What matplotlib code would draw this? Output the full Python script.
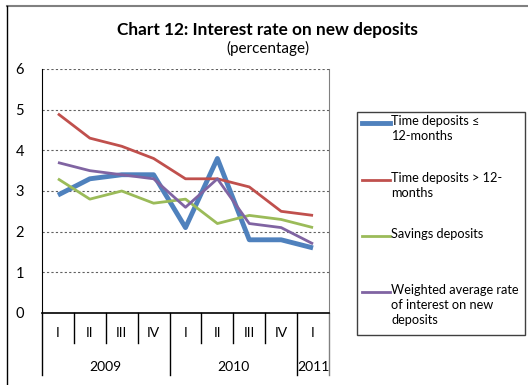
import matplotlib.pyplot as plt
from matplotlib.lines import Line2D
from matplotlib.patches import Rectangle

plt.rcParams['font.family'] = ['Lato', 'DejaVu Sans']

# quarterly data, 2009 Q1 .. 2011 Q1
quarters = ['I', 'II', 'III', 'IV', 'I', 'II', 'III', 'IV', 'I']
years = ['2009', '2010', '2011']
year_len = [4, 4, 1]

time_le12 = [2.9, 3.3, 3.4, 3.4, 2.1, 3.8, 1.8, 1.8, 1.6]
time_gt12 = [4.9, 4.3, 4.1, 3.8, 3.3, 3.3, 3.1, 2.5, 2.4]
savings = [3.3, 2.8, 3.0, 2.7, 2.8, 2.2, 2.4, 2.3, 2.1]
weighted = [3.7, 3.5, 3.4, 3.3, 2.6, 3.3, 2.2, 2.1, 1.7]

labels = ['Time deposits \u2264\n12-months', 'Time deposits > 12-\nmonths',
          'Savings deposits', 'Weighted average rate\nof interest on new\ndeposits']
colors = ['#4F81BD', '#C0504D', '#9BBB59', '#8064A2']
widths = [3.5, 2, 2, 2]

W, H = 528, 385
fig = plt.figure(figsize=(W / 100, H / 100), dpi=100)

def fx(px):
    return px / W

def fy(py):
    return 1 - py / H

# outer frame (top and left edges)
fig.add_artist(Line2D([fx(7), 1], [fy(6), fy(6)], color='#808080', lw=1.5))
fig.add_artist(Line2D([fx(7), fx(7)], [fy(6), 0], color='black', lw=1))

fig.text(fx(267), fy(30), 'Chart 12: Interest rate on new deposits',
         ha='center', va='center', fontsize=12.4, fontweight='bold')
fig.text(fx(268), fy(48), '(percentage)', ha='center', va='center', fontsize=11)

left, right, top, bottom = 42, 329, 69, 313
ax = fig.add_axes([fx(left), fy(bottom), fx(right - left), (bottom - top) / H])
ax_h = bottom - top

x = list(range(len(quarters)))
series = [time_le12, time_gt12, savings, weighted]
for vals, c, lw in zip(series, colors, widths):
    ax.plot(x, vals, color=c, lw=lw, solid_capstyle='butt', zorder=3)

ax.set_xlim(-0.5, len(quarters) - 0.5)
ax.set_ylim(0, 6)
ax.set_yticks(range(0, 7))
ax.yaxis.grid(True, linestyle=(0, (2, 2)), color='#606060', lw=0.8)
ax.tick_params(axis='y', length=0, pad=13, labelsize=10.5)
ax.set_xticks([])
ax.spines['top'].set_visible(False)
ax.spines['right'].set_color('#808080')
ax.spines['left'].set_color('black')
ax.spines['bottom'].set_color('black')
ax.spines['bottom'].set_linewidth(1.2)

# category axis: quarter cells and year groups drawn below the plot
trans = ax.get_xaxis_transform()
q_bot = -30 / ax_h
y_bot = -62 / ax_h
bounds = [0]
for n in year_len:
    bounds.append(bounds[-1] + n)
for k in range(len(quarters) + 1):
    xb = k - 0.5
    yb = y_bot if k in bounds else q_bot
    col = '#808080' if k == len(quarters) else 'black'
    ax.add_line(Line2D([xb, xb], [0, yb], transform=trans, color=col, lw=1, clip_on=False))
for i, q in enumerate(quarters):
    ax.text(i, -20 / ax_h, q, transform=trans, ha='center', va='center', fontsize=10)
for j, yr in enumerate(years):
    mid = (bounds[j] + bounds[j + 1]) / 2 - 0.5
    ax.text(mid, -54 / ax_h, yr, transform=trans, ha='center', va='center', fontsize=10)

# legend box
fig.add_artist(Rectangle((fx(357), fy(335)), fx(525 - 357), (335 - 112) / H,
                         fill=False, edgecolor='#404040', lw=1))
entry_y = [123, 180, 236, 292]
for lab, c, lw, ey in zip(labels, colors, widths, entry_y):
    fig.add_artist(Line2D([fx(362), fx(390)], [fy(ey), fy(ey)], color=c, lw=lw))
    fig.text(fx(391), fy(ey - 8), lab, ha='left', va='top', fontsize=9.2,
             linespacing=1.3)

fig.savefig('out.png', dpi=100)
